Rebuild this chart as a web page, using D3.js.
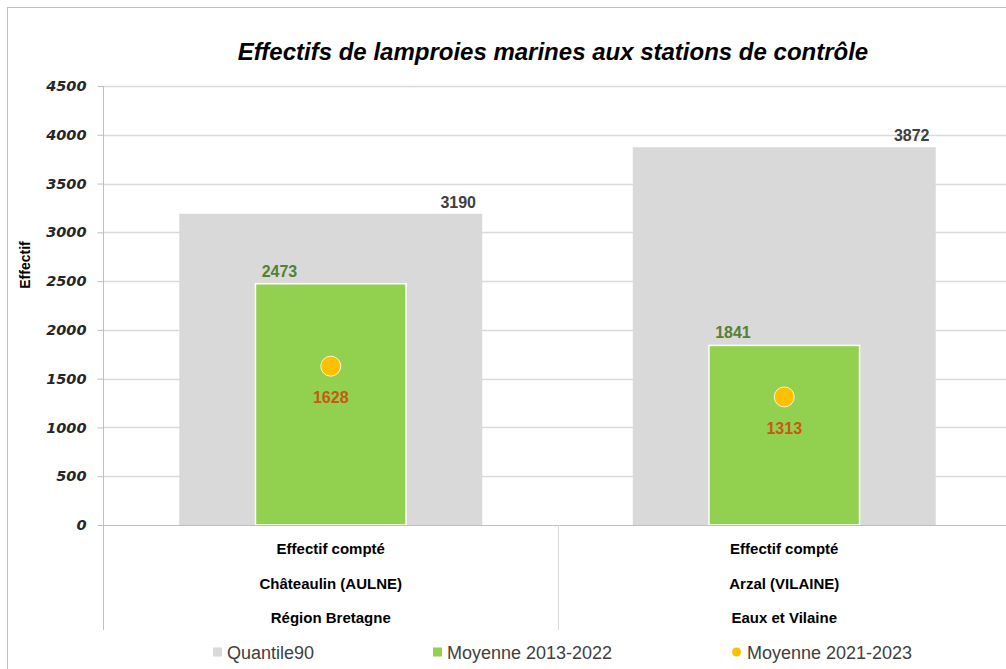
<!DOCTYPE html>
<meta charset="utf-8">
<script src="https://d3js.org/d3.v7.min.js"></script>
<style>
  body { margin: 0; background: #fff; }
  text { font-family: "Liberation Sans", sans-serif; }
</style>
<body>
<svg width="1006" height="669"></svg>
<script>
// data
var categories = [
    ["Effectif compté", "Châteaulin (AULNE)", "Région Bretagne"],
    ["Effectif compté", "Arzal (VILAINE)", "Eaux et Vilaine"]
];
var quantile90 = [3190, 3872];
var moyenne1322 = [2473, 1841];
var moyenne2123 = [1628, 1313];
var yTicks = [0, 500, 1000, 1500, 2000, 2500, 3000, 3500, 4000, 4500];
var legendLabels = ["Quantile90", "Moyenne 2013-2022", "Moyenne 2021-2023"];

var svg = d3.select("svg");
var plotLeft = 104, plotRight = 1011, plotTop = 86, plotBottom = 525;

var x = d3.scaleBand().domain([0, 1]).range([plotLeft, plotRight]);
var y = d3.scaleLinear().domain([0, 4500]).range([plotBottom, plotTop]);
var bw = x.bandwidth();

// outer border
svg.append("rect")
    .attr("x", 7.5).attr("y", 7.5)
    .attr("width", 1010).attr("height", 680)
    .attr("fill", "none")
    .attr("stroke", "#bfbfbf");

// title
svg.append("text")
    .attr("x", 553).attr("y", 60)
    .attr("text-anchor", "middle")
    .style("font-size", "24px")
    .style("font-weight", "bold")
    .style("font-style", "italic")
    .attr("fill", "#000")
    .text("Effectifs de lamproies marines aux stations de contrôle");

// gridlines
svg.append("g")
    .selectAll("line").data(yTicks.slice(1))
    .enter().append("line")
    .attr("x1", plotLeft).attr("x2", plotRight)
    .attr("y1", function(d) { return Math.round(y(d)) + 0.5; })
    .attr("y2", function(d) { return Math.round(y(d)) + 0.5; })
    .attr("stroke", "#d9d9d9")
    .attr("stroke-width", 1.5);

// y axis
var yAxis = svg.append("g")
    .attr("transform", "translate(" + (plotLeft - 0.5) + ",0)")
    .call(d3.axisLeft(y).tickValues(yTicks).tickSize(6).tickPadding(11).tickFormat(d3.format("d")));
yAxis.selectAll("line").attr("stroke", "#bfbfbf");
yAxis.select(".domain").remove();
yAxis.selectAll("text")
    .style("font-family", "'DejaVu Sans', sans-serif")
    .style("font-size", "14.5px")
    .style("font-weight", "bold")
    .style("font-style", "italic")
    .attr("fill", "#262626");

svg.append("line")
    .attr("x1", plotLeft - 0.5).attr("x2", plotLeft - 0.5)
    .attr("y1", plotTop).attr("y2", 630)
    .attr("stroke", "#bfbfbf");

svg.append("text")
    .attr("transform", "translate(30,265) rotate(-90)")
    .attr("text-anchor", "middle")
    .style("font-size", "14px")
    .style("font-weight", "bold")
    .attr("fill", "#000")
    .text("Effectif");

// grey bars (quantile 90)
svg.append("g").selectAll("rect").data(quantile90)
    .enter().append("rect")
    .attr("x", function(d, i) { return x(i) + bw * 0.166; })
    .attr("width", bw * 0.668)
    .attr("y", function(d) { return y(d); })
    .attr("height", function(d) { return plotBottom - y(d); })
    .attr("fill", "#d9d9d9");

// green bars (moyenne 2013-2022)
svg.append("g").selectAll("rect").data(moyenne1322)
    .enter().append("rect")
    .attr("x", function(d, i) { return x(i) + bw * 0.5 - bw * 0.166; })
    .attr("width", bw * 0.332)
    .attr("y", function(d) { return y(d); })
    .attr("height", function(d) { return plotBottom - y(d); })
    .attr("fill", "#92d050")
    .attr("stroke", "#ffffff")
    .attr("stroke-width", 1.5);

// x axis line and category dividers
svg.append("line")
    .attr("x1", plotLeft).attr("x2", plotRight)
    .attr("y1", plotBottom + 0.5).attr("y2", plotBottom + 0.5)
    .attr("stroke", "#bfbfbf");
svg.append("g").selectAll("line").data([1])
    .enter().append("line")
    .attr("x1", function(d) { return Math.round(x(d)) + 0.5; })
    .attr("x2", function(d) { return Math.round(x(d)) + 0.5; })
    .attr("y1", plotBottom).attr("y2", 630)
    .attr("stroke", "#d9d9d9");

// dots (moyenne 2021-2023)
svg.append("g").selectAll("circle").data(moyenne2123)
    .enter().append("circle")
    .attr("cx", function(d, i) { return x(i) + bw / 2; })
    .attr("cy", function(d) { return y(d); })
    .attr("r", 10)
    .attr("fill", "#ffc000")
    .attr("stroke", "#fff2cc")
    .attr("stroke-width", 1);

// data labels
var labelStyle = function(sel, color) {
    sel.style("font-size", "16px")
        .style("font-weight", "bold")
        .attr("fill", color)
        .attr("text-anchor", "middle");
};
svg.append("g").selectAll("text").data(quantile90)
    .enter().append("text")
    .attr("x", function(d, i) { return x(i) + bw * 0.834 - 24; })
    .attr("y", function(d) { return y(d) - 6; })
    .call(labelStyle, "#404040")
    .text(function(d) { return d; });
svg.append("g").selectAll("text").data(moyenne1322)
    .enter().append("text")
    .attr("x", function(d, i) { return x(i) + bw * 0.334 + 24; })
    .attr("y", function(d) { return y(d) - 7; })
    .call(labelStyle, "#538135")
    .text(function(d) { return d; });
svg.append("g").selectAll("text").data(moyenne2123)
    .enter().append("text")
    .attr("x", function(d, i) { return x(i) + bw / 2; })
    .attr("y", function(d) { return y(d) + 37; })
    .call(labelStyle, "#c55a11")
    .text(function(d) { return d; });

// category labels (3 levels)
categories.forEach(function(lines, i) {
    svg.append("g").selectAll("text").data(lines)
        .enter().append("text")
        .attr("x", x(i) + bw / 2)
        .attr("y", function(d, j) { return 554 + j * 34.5; })
        .attr("text-anchor", "middle")
        .style("font-size", "15px")
        .style("font-weight", "bold")
        .attr("fill", "#000")
        .text(function(d) { return d; });
});

// legend
var legendX = [213, 433, 732];
var lg = svg.append("g").selectAll("g").data(legendLabels)
    .enter().append("g")
    .attr("transform", function(d, i) { return "translate(" + legendX[i] + ",652)"; });
lg.filter(function(d, i) { return i < 2; })
    .append("rect")
    .attr("x", 0).attr("y", -4.5)
    .attr("width", 9).attr("height", 9)
    .attr("fill", function(d, i) { return i === 0 ? "#d9d9d9" : "#92d050"; });
lg.filter(function(d, i) { return i === 2; })
    .append("circle")
    .attr("cx", 4.5).attr("cy", 0).attr("r", 4.5)
    .attr("fill", "#ffc000");
lg.append("text")
    .attr("x", function(d, i) { return i === 2 ? 15 : 14; })
    .attr("y", 7)
    .style("font-size", "18px")
    .attr("fill", "#404040")
    .text(function(d) { return d; });
</script>
</body>
